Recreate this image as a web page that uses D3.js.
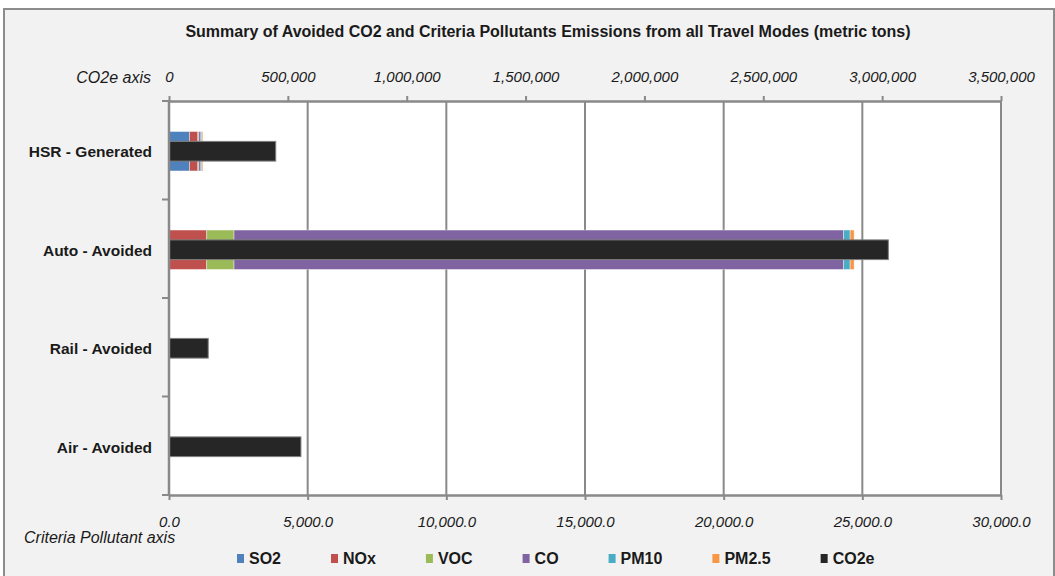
<!DOCTYPE html>
<html>
<head>
<meta charset="utf-8">
<script src="https://cdn.jsdelivr.net/npm/d3@7"></script>
<style>
    body { margin: 0; background: white; }
    svg { font-family: "Liberation Sans", Arial, sans-serif; }
</style>
</head>
<body>
<div id="chart"></div>
<script>
const categories = ["HSR - Generated", "Auto - Avoided", "Rail - Avoided", "Air - Avoided"];
const pollutants = ["SO2", "NOx", "VOC", "CO", "PM10", "PM2.5"];
const so2 = [740, 0, 0, 0];
const nox = [300, 1360, 0, 0];
const voc = [36, 985, 0, 0];
const co = [72, 21975, 0, 0];
const pm10 = [36, 240, 0, 0];
const pm25 = [36, 144, 0, 0];
const co2e = [449000, 3026000, 165000, 555000];
const criteriaTicks = [0, 5000, 10000, 15000, 20000, 25000, 30000];
const co2eTicks = [0, 500000, 1000000, 1500000, 2000000, 2500000, 3000000, 3500000];
const legendNames = ["SO2", "NOx", "VOC", "CO", "PM10", "PM2.5", "CO2e"];
const colors = ["#4f81bd", "#c0504d", "#9bbb59", "#8064a2", "#4bacc6", "#f79646", "#262626"];

const width = 1055, height = 576;
const plotLeft = 169, plotRight = 1001, plotTop = 101, plotBottom = 495;
const gridColor = "#898989";
const textColor = "#1a1a1a";

const svg = d3.select("#chart").append("svg")
    .attr("width", width)
    .attr("height", height);

svg.append("rect")
    .attr("x", 4).attr("y", 9)
    .attr("width", width - 5).attr("height", height - 8)
    .style("fill", "#f2f2f2")
    .style("stroke", "#8c8c8c")
    .style("stroke-width", 2);

svg.append("rect")
    .attr("x", plotLeft).attr("y", plotTop)
    .attr("width", plotRight - plotLeft).attr("height", plotBottom - plotTop)
    .style("fill", "white");

const xCrit = d3.scaleLinear().domain([0, 30000]).range([plotLeft, plotRight]);
const xCo2 = d3.scaleLinear().domain([0, 3500000]).range([plotLeft, plotRight]);
const y = d3.scaleBand().domain(categories).range([plotTop, plotBottom]).padding(0);

// title
svg.append("text")
    .attr("x", 548).attr("y", 37)
    .attr("text-anchor", "middle")
    .style("font-weight", "bold")
    .style("font-size", "16px")
    .style("fill", textColor)
    .text("Summary of Avoided CO2 and Criteria Pollutants Emissions from all Travel Modes (metric tons)");

// gridlines
svg.append("g").selectAll("line")
    .data(criteriaTicks)
    .join("line")
    .attr("x1", d => xCrit(d)).attr("x2", d => xCrit(d))
    .attr("y1", plotTop).attr("y2", plotBottom)
    .style("stroke", gridColor)
    .style("stroke-width", 2);

// stacked criteria pollutant bars
const rows = categories.map((c, i) => ({
    category: c,
    "SO2": so2[i], "NOx": nox[i], "VOC": voc[i], "CO": co[i], "PM10": pm10[i], "PM2.5": pm25[i]
}));
const stacked = d3.stack().keys(pollutants)(rows);
const critH = y.bandwidth() * 0.4;
svg.append("g").selectAll("g")
    .data(stacked)
    .join("g")
    .style("fill", (d, i) => colors[i])
    .selectAll("rect")
    .data(d => d.filter(s => s[1] - s[0] > 0))
    .join("rect")
    .attr("x", d => xCrit(d[0]))
    .attr("width", d => xCrit(d[1]) - xCrit(d[0]))
    .attr("y", d => y(d.data.category) + (y.bandwidth() - critH) / 2 + 1)
    .attr("height", critH)
    .style("stroke", "rgba(255,255,255,0.5)")
    .style("stroke-width", 0.75);

// CO2e bars
const co2H = y.bandwidth() * 0.2;
svg.append("g").selectAll("rect")
    .data(categories)
    .join("rect")
    .attr("x", xCo2(0))
    .attr("width", (d, i) => xCo2(co2e[i]) - xCo2(0))
    .attr("y", d => y(d) + (y.bandwidth() - co2H) / 2 + 1)
    .attr("height", co2H)
    .style("fill", colors[6])
    .style("stroke", "#7f7f7f")
    .style("stroke-width", 1);

// bottom axis (criteria pollutants)
const bottomAxis = svg.append("g")
    .attr("transform", `translate(0,${plotBottom})`)
    .call(d3.axisBottom(xCrit).tickValues(criteriaTicks).tickSize(5).tickSizeOuter(0).tickPadding(16)
        .tickFormat(d3.format(",.1f")));

// top axis (CO2e)
const topAxis = svg.append("g")
    .attr("transform", `translate(0,${plotTop})`)
    .call(d3.axisTop(xCo2).tickValues(co2eTicks).tickSize(5).tickSizeOuter(0).tickPadding(14)
        .tickFormat(d3.format(",")));

for(const ax of [bottomAxis, topAxis]) {
    ax.select(".domain").style("stroke", gridColor).style("stroke-width", 2.5);
    ax.selectAll(".tick line").style("stroke", gridColor).style("stroke-width", 2);
    ax.selectAll(".tick text")
        .style("font-size", "15px")
        .style("font-style", "italic")
        .style("fill", textColor)
        .style("font-family", "'Liberation Sans', Arial, sans-serif");
}

// category axis
const leftAxis = svg.append("g")
    .attr("transform", `translate(${plotLeft},0)`)
    .call(d3.axisLeft(y).tickSize(0).tickPadding(17));
leftAxis.select(".domain").remove();
leftAxis.selectAll(".tick text")
    .attr("dy", "0.45em")
    .style("font-size", "15.5px")
    .style("font-weight", "bold")
    .style("fill", textColor)
    .style("font-family", "'Liberation Sans', Arial, sans-serif");

svg.append("g").selectAll("line")
    .data(categories.map(c => y(c)).concat([plotBottom]))
    .join("line")
    .attr("x1", plotLeft - 7).attr("x2", plotLeft)
    .attr("y1", d => d).attr("y2", d => d)
    .style("stroke", gridColor)
    .style("stroke-width", 2);
svg.append("line")
    .attr("x1", plotLeft).attr("x2", plotLeft)
    .attr("y1", plotTop - 1).attr("y2", plotBottom + 1)
    .style("stroke", gridColor)
    .style("stroke-width", 2.5);

// axis titles
svg.append("text")
    .attr("x", 151).attr("y", 83)
    .attr("text-anchor", "end")
    .style("font-size", "16px")
    .style("font-style", "italic")
    .style("fill", textColor)
    .text("CO2e axis");
svg.append("text")
    .attr("x", 24).attr("y", 543)
    .style("font-size", "16px")
    .style("font-style", "italic")
    .style("fill", textColor)
    .text("Criteria Pollutant axis");

// legend
const legend = svg.append("g");
let lx = 237;
legendNames.forEach((name, i) => {
    legend.append("rect")
        .attr("x", lx).attr("y", 554)
        .attr("width", 7).attr("height", 9)
        .style("fill", colors[i]);
    const t = legend.append("text")
        .attr("x", lx + 12).attr("y", 564)
        .style("font-size", "16px")
        .style("font-weight", "bold")
        .style("fill", textColor)
        .text(name);
    lx += 12 + t.node().getComputedTextLength() + 50;
});
</script>
</body>
</html>
